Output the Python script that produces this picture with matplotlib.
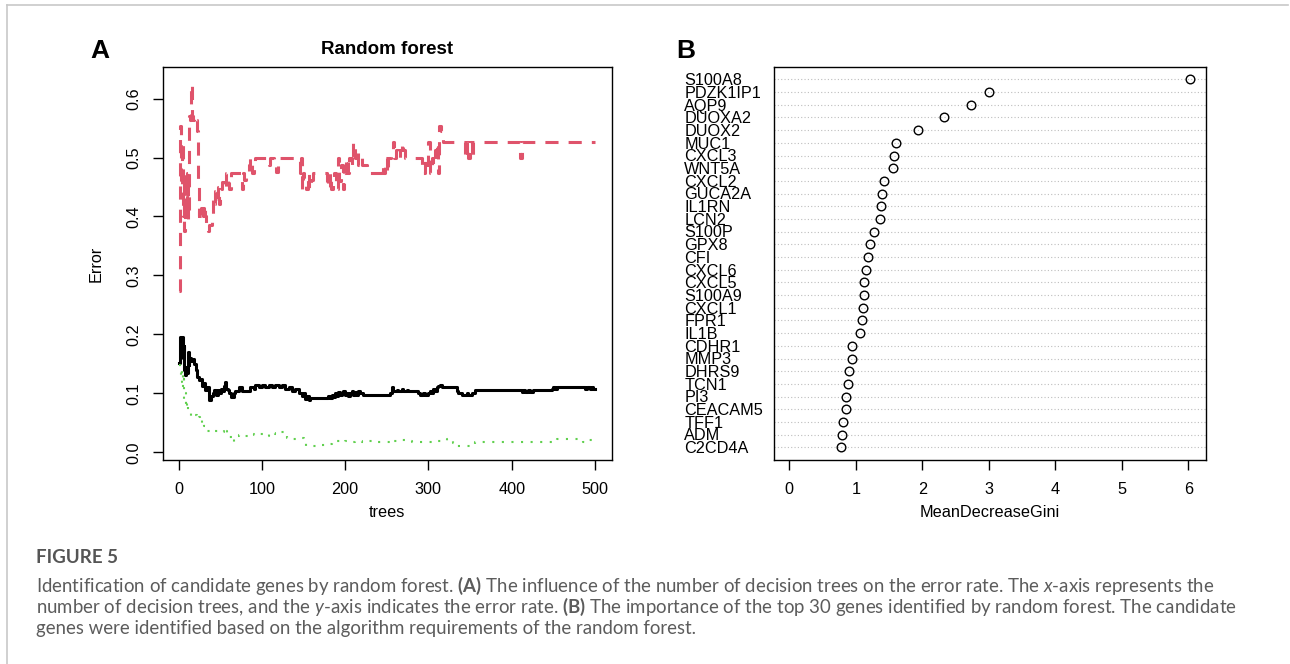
import numpy as np
import matplotlib
matplotlib.use("Agg")
import matplotlib.pyplot as plt
import matplotlib.transforms as mtransforms
from matplotlib.lines import Line2D

# ---- panel A: error rate vs number of trees ----
oob_trees = [1, 2, 3, 4, 5, 6, 7, 8, 9, 10, 11, 12, 13, 15, 17, 19, 21, 22, 24, 26,
             28, 30, 32, 34, 36, 37, 39, 41, 43, 45, 47, 49, 51, 53, 55, 56, 57, 59,
             61, 63, 66, 68, 72, 76, 84, 86, 90, 92, 96, 100, 104, 108, 112, 116,
             120, 124, 128, 132, 136, 140, 144, 148, 150, 152, 154, 156, 158, 180,
             182, 184, 186, 188, 190, 192, 194, 196, 198, 200, 202, 204, 206, 208,
             210, 212, 214, 216, 218, 222, 254, 256, 258, 262, 264, 268, 270, 274,
             276, 288, 290, 294, 296, 300, 302, 304, 306, 308, 310, 312, 314, 316,
             334, 336, 340, 346, 348, 352, 356, 412, 414, 416, 420, 422, 426, 448,
             450, 452, 454, 488, 490, 494, 496, 498, 500]
oob_err = [0.151, 0.196, 0.17, 0.196, 0.16, 0.18, 0.14, 0.131, 0.145, 0.135, 0.17,
           0.148, 0.16, 0.155, 0.158, 0.15, 0.14, 0.128, 0.122, 0.125, 0.112, 0.118,
           0.105, 0.11, 0.095, 0.088, 0.096, 0.1, 0.105, 0.098, 0.106, 0.1, 0.108,
           0.104, 0.112, 0.119, 0.108, 0.105, 0.1, 0.094, 0.1, 0.104, 0.111, 0.104,
           0.104, 0.111, 0.108, 0.114, 0.111, 0.114, 0.111, 0.115, 0.111, 0.115,
           0.111, 0.115, 0.108, 0.111, 0.104, 0.108, 0.101, 0.096, 0.1, 0.091, 0.095,
           0.089, 0.0926, 0.096, 0.092, 0.098, 0.094, 0.1, 0.096, 0.102, 0.097, 0.1,
           0.104, 0.097, 0.1, 0.096, 0.1, 0.104, 0.097, 0.102, 0.098, 0.104, 0.1,
           0.098, 0.1, 0.111, 0.104, 0.106, 0.104, 0.108, 0.104, 0.106, 0.104, 0.1,
           0.097, 0.1, 0.097, 0.1, 0.104, 0.1, 0.108, 0.104, 0.111, 0.113, 0.115,
           0.111, 0.104, 0.101, 0.098, 0.101, 0.097, 0.1, 0.106, 0.103, 0.106, 0.102,
           0.106, 0.103, 0.106, 0.108, 0.111, 0.108, 0.111, 0.107, 0.111, 0.107,
           0.111, 0.107, 0.107]

cls1_trees = [1, 2, 3, 4, 5, 6, 7, 8, 9, 10, 11, 12, 13, 14, 15, 16, 17, 19, 21, 22,
              23, 24, 25, 26, 27, 28, 29, 30, 31, 32, 33, 35, 37, 40, 41, 43, 44, 46,
              47, 49, 50, 52, 54, 57, 59, 61, 63, 76, 77, 79, 81, 84, 86, 88, 90, 92,
              108, 110, 115, 117, 119, 146, 147, 148, 149, 151, 153, 155, 157, 159,
              162, 178, 180, 182, 183, 185, 187, 189, 191, 193, 195, 197, 199, 201,
              203, 205, 208, 210, 212, 214, 216, 218, 220, 226, 244, 246, 248, 250,
              252, 255, 257, 259, 261, 263, 266, 268, 270, 272, 292, 294, 296, 298,
              300, 302, 304, 306, 308, 310, 312, 313, 315, 317, 344, 346, 348, 350,
              352, 354, 410, 412, 500]
cls1_err = [0.273, 0.553, 0.45, 0.526, 0.40, 0.474, 0.375, 0.45, 0.40, 0.474, 0.395,
            0.545, 0.571, 0.563, 0.625, 0.571, 0.563, 0.571, 0.563, 0.545, 0.455,
            0.40, 0.414, 0.40, 0.414, 0.40, 0.414, 0.40, 0.414, 0.40, 0.387, 0.375,
            0.385, 0.40, 0.432, 0.421, 0.444, 0.429, 0.45, 0.421, 0.447, 0.459,
            0.447, 0.474, 0.456, 0.447, 0.474, 0.447, 0.474, 0.462, 0.474, 0.487,
            0.5, 0.474, 0.487, 0.5, 0.487, 0.5, 0.487, 0.476, 0.5, 0.474, 0.5, 0.447,
            0.474, 0.461, 0.447, 0.474, 0.447, 0.462, 0.474, 0.461, 0.447, 0.474,
            0.447, 0.461, 0.474, 0.447, 0.5, 0.461, 0.487, 0.447, 0.474, 0.5, 0.474,
            0.5, 0.487, 0.526, 0.5, 0.513, 0.487, 0.5, 0.487, 0.474, 0.487, 0.474,
            0.5, 0.474, 0.5, 0.513, 0.526, 0.5, 0.513, 0.5, 0.513, 0.526, 0.513, 0.5,
            0.487, 0.474, 0.5, 0.487, 0.526, 0.474, 0.5, 0.487, 0.513, 0.526, 0.474,
            0.553, 0.545, 0.526, 0.5, 0.526, 0.5, 0.526, 0.5, 0.526, 0.5, 0.526, 0.526]

cls2_trees = [1, 2, 3, 4, 5, 6, 7, 8, 9, 10, 11, 12, 15, 18, 20, 22, 24, 26, 28, 30,
              32, 34, 38, 44, 50, 54, 56, 58, 61, 64, 67, 72, 78, 84, 90, 96, 102,
              108, 116, 122, 127, 130, 136, 144, 150, 153, 160, 170, 176, 184, 190,
              196, 200, 206, 212, 220, 228, 236, 248, 254, 258, 266, 272, 280, 300,
              312, 322, 330, 334, 350, 356, 448, 454, 486, 490, 500]
cls2_err = [0.148, 0.135, 0.12, 0.14, 0.11, 0.125, 0.09, 0.1, 0.075, 0.085, 0.07,
            0.066, 0.062, 0.06, 0.063, 0.056, 0.06, 0.05, 0.055, 0.045, 0.04, 0.036,
            0.035, 0.037, 0.035, 0.042, 0.036, 0.03, 0.026, 0.017, 0.028, 0.03,
            0.028, 0.031, 0.029, 0.031, 0.028, 0.033, 0.031, 0.034, 0.03, 0.025,
            0.022, 0.024, 0.02, 0.011, 0.01, 0.012, 0.014, 0.018, 0.02, 0.017, 0.02,
            0.018, 0.02, 0.017, 0.02, 0.018, 0.017, 0.021, 0.019, 0.021, 0.019,
            0.017, 0.018, 0.019, 0.022, 0.016, 0.01, 0.012, 0.017, 0.019, 0.022,
            0.018, 0.021, 0.019]

# ---- panel B: variable importance ----
genes = ["S100A8", "PDZK1IP1", "AQP9", "DUOXA2", "DUOX2", "MUC1", "CXCL3", "WNT5A",
         "CXCL2", "GUCA2A", "IL1RN", "LCN2", "S100P", "GPX8", "CFI", "CXCL6", "CXCL5",
         "S100A9", "CXCL1", "FPR1", "IL1B", "CDHR1", "MMP3", "DHRS9", "TCN1", "PI3",
         "CEACAM5", "TFF1", "ADM", "C2CD4A"]
gini = [6.03, 3.00, 2.73, 2.32, 1.93, 1.61, 1.57, 1.56, 1.42, 1.39, 1.38, 1.37, 1.27,
        1.22, 1.18, 1.15, 1.13, 1.12, 1.11, 1.09, 1.07, 0.95, 0.94, 0.90, 0.88, 0.85,
        0.85, 0.80, 0.79, 0.77]

caption_lines = [
    r"Identification of candidate genes by random forest. $\mathbf{(A)}$ The influence of the number of decision trees on the error rate. The $\mathit{x}$-axis represents the",
    r"number of decision trees, and the $\mathit{y}$-axis indicates the error rate. $\mathbf{(B)}$ The importance of the top 30 genes identified by random forest. The candidate",
    r"genes were identified based on the algorithm requirements of the random forest.",
]

W, H = 1290, 664
plt.rcParams["font.family"] = ["Liberation Sans", "DejaVu Sans"]
plt.rcParams["mathtext.fontset"] = "custom"
plt.rcParams["mathtext.rm"] = "Lato"
plt.rcParams["mathtext.bf"] = "Lato:bold"
plt.rcParams["mathtext.it"] = "Lato:italic"

fig = plt.figure(figsize=(W / 100, H / 100), dpi=100)


def fx(px):
    return px / W


def fy(py):
    return 1 - py / H


FS = 11.7

# panel A
axA = fig.add_axes([fx(162.8), fy(460), (611.6 - 162.8) / W, (460 - 66.7) / H])
axA.plot(oob_trees, oob_err, color="black", lw=2.2, drawstyle="steps-post")
axA.plot(cls1_trees, cls1_err, color="#DF536B", lw=2.2, ls=(0, (4.3, 3.3)),
         drawstyle="steps-post")
axA.plot(cls2_trees, cls2_err, color="#61D04F", lw=1.5, ls=(0, (1, 3.6)),
         drawstyle="steps-post")
axA.set_xlim(-18.96, 519.96)
axA.set_ylim(-0.013, 0.654)
axA.set_xticks(np.arange(0, 501, 100))
axA.set_yticks(np.arange(0, 0.61, 0.1))
axA.set_yticklabels([f"{v:.1f}" for v in np.arange(0, 0.61, 0.1)])
axA.tick_params(direction="out", length=7, width=1, labelsize=FS, pad=9)
axA.tick_params(axis="y", labelrotation=90, pad=8.5)
for lab in axA.get_yticklabels():
    lab.set_va("center")
for sp in axA.spines.values():
    sp.set_linewidth(1.0)

fig.text(fx(387.2), fy(54.4), "Random forest", fontsize=13.5, fontweight="bold",
         ha="center", va="baseline")
fig.text(fx(387.2), fy(517), "trees", fontsize=FS, ha="center", va="baseline")
fig.text(fx(96), fy(263.4), "Error", fontsize=FS, rotation=90, ha="center", va="center")
fig.text(fx(90), fy(58), "A", fontsize=19, fontweight="bold", ha="left", va="baseline")

# panel B
axB = fig.add_axes([fx(773.6), fy(460), (1206.4 - 773.6) / W, (460 - 66.7) / H])
rows = np.arange(len(genes), 0, -1)
for r in rows:
    axB.axhline(r, color="#BEBEBE", lw=0.8, ls=(0, (1, 2)), zorder=1)
axB.plot(gini, rows, "o", mfc="none", mec="black", ms=6.2, mew=1.0, zorder=3)
axB.set_xlim(-0.236, 6.27)
axB.set_ylim(0, len(genes) + 1)
axB.set_xticks(range(0, 7))
axB.set_yticks([])
axB.tick_params(direction="out", length=7, width=1, labelsize=FS, pad=9)
for sp in axB.spines.values():
    sp.set_linewidth(1.0)

lab_tr = mtransforms.offset_copy(
    mtransforms.blended_transform_factory(axB.transAxes, axB.transData),
    fig=fig, y=-0.716 * FS / 2, units="points")
for g, r in zip(genes, rows):
    axB.text((684.3 - 773.6) / (1206.4 - 773.6), r, g, fontsize=FS, ha="left",
             va="baseline", transform=lab_tr, clip_on=False)

fig.text(fx(990), fy(517), "MeanDecreaseGini", fontsize=FS, ha="center", va="baseline")
fig.text(fx(676), fy(58), "B", fontsize=19, fontweight="bold", ha="left", va="baseline")

# caption
cap_color = "#5c5c5c"
fig.text(fx(36), fy(563), "FIGURE 5", fontsize=13.5, family="Lato", fontweight="bold",
         color="#555555", ha="left", va="baseline")
cap_texts = []
for i, line in enumerate(caption_lines):
    t = fig.text(fx(36), fy(592 + 21 * i), line, fontsize=12, family="Lato",
                 color=cap_color, ha="left", va="baseline")
    cap_texts.append(t)
rend = fig.canvas.get_renderer()
w1 = cap_texts[0].get_window_extent(rend).width
for t in cap_texts:
    t.set_fontsize(12 * 1178 / w1)

# page frame
fig.add_artist(Line2D([fx(6.5), fx(1288)], [fy(5.3), fy(5.3)], color="#c8c8c8", lw=1.2))
fig.add_artist(Line2D([fx(6.5), fx(6.5)], [fy(5.3), 0], color="#c8c8c8", lw=1.2))

fig.savefig("out.png", dpi=100)
